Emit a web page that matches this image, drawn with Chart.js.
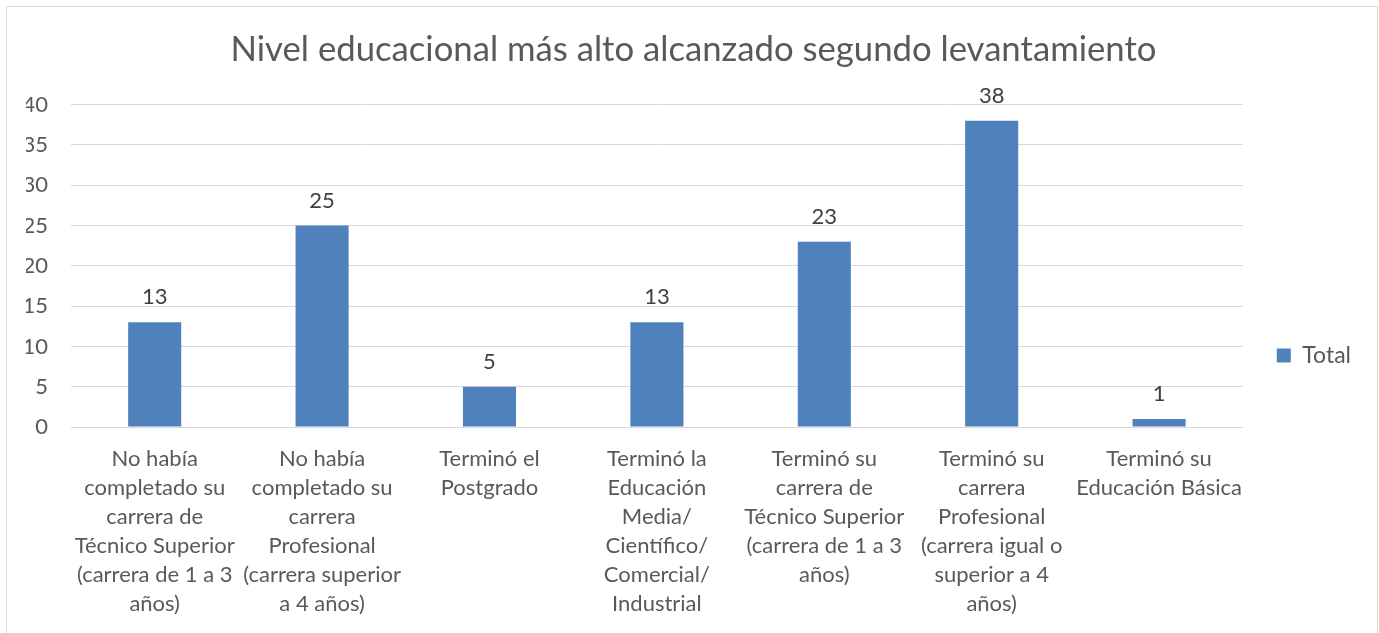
<!DOCTYPE html>
<html>
<head>
<meta charset="utf-8">
<script src="https://cdn.jsdelivr.net/npm/chart.js@4/dist/chart.umd.min.js"></script>
<style>
html,body{margin:0;padding:0;background:#fff;}
#wrap{position:absolute;left:0;top:0;width:1379px;height:633px;}
</style>
</head>
<body>
<div id="wrap"><canvas id="c" width="1379" height="633"></canvas></div>
<script>
const titleText = 'Nivel educacional más alto alcanzado segundo levantamiento';
const seriesName = 'Total';
const categories = [
  ['No había','completado su','carrera de','Técnico Superior','(carrera de 1 a 3','años)'],
  ['No había','completado su','carrera','Profesional','(carrera superior','a 4 años)'],
  ['Terminó el','Postgrado'],
  ['Terminó la','Educación','Media/','Científico/','Comercial/','Industrial'],
  ['Terminó su','carrera de','Técnico Superior','(carrera de 1 a 3','años)'],
  ['Terminó su','carrera','Profesional','(carrera igual o','superior a 4','años)'],
  ['Terminó su','Educación Básica']
];
const values = [13, 25, 5, 13, 23, 38, 1];
const yMin = 0, yMax = 40, yStep = 5;

const FONT = 'Lato, "Open Sans", sans-serif';
const TEXT = '#595959';

const borderPlugin = {
  id: 'outerBorder',
  beforeDraw(chart) {
    const ctx = chart.ctx;
    ctx.save();
    ctx.fillStyle = '#fff';
    ctx.fillRect(0, 0, chart.width, chart.height);
    ctx.strokeStyle = '#d9d9d9';
    ctx.lineWidth = 1;
    ctx.strokeRect(6.5, 6.5, chart.width - 8, chart.height + 10);
    ctx.restore();
  }
};

const labelPlugin = {
  id: 'valueLabels',
  afterDatasetsDraw(chart) {
    const ctx = chart.ctx;
    const meta = chart.getDatasetMeta(0);
    ctx.save();
    ctx.font = '22px ' + FONT;
    ctx.fillStyle = '#404040';
    ctx.textAlign = 'center';
    ctx.textBaseline = 'alphabetic';
    meta.data.forEach((bar, i) => {
      ctx.fillText(String(values[i]), bar.x, bar.y - 18);
    });
    ctx.restore();
  }
};

new Chart(document.getElementById('c'), {
  type: 'bar',
  data: {
    labels: categories,
    datasets: [{
      label: seriesName,
      data: values,
      backgroundColor: '#4F81BD',
      borderWidth: 0,
      categoryPercentage: 1.0,
      barPercentage: 0.317
    }]
  },
  options: {
    responsive: false,
    animation: false,
    devicePixelRatio: 1,
    layout: { padding: { left: 26, right: 18, top: 0, bottom: 0 } },
    plugins: {
      title: {
        display: true,
        text: titleText,
        color: TEXT,
        font: { family: FONT, size: 34.7, weight: 'normal', lineHeight: 1.2 },
        padding: { top: 29, bottom: 34 }
      },
      legend: {
        display: true,
        position: 'right',
        title: {
          display: true,
          text: ' ',
          font: { family: FONT, size: 10, lineHeight: 1.2 },
          padding: { top: 0, bottom: 66 }
        },
        labels: {
          color: TEXT,
          font: { family: FONT, size: 23 },
          boxWidth: 14,
          boxHeight: 14,
          padding: 34
        }
      },
      tooltip: { enabled: false }
    },
    scales: {
      x: {
        grid: { display: false, drawTicks: false },
        border: { display: false },
        ticks: {
          color: TEXT,
          font: { family: FONT, size: 22, lineHeight: 29 / 22 },
          padding: 17,
          maxRotation: 0,
          autoSkip: false
        },
        afterFit(s) { s.height = 206; }
      },
      y: {
        min: yMin,
        max: yMax,
        grid: { color: '#d9d9d9', drawTicks: false, lineWidth: 1 },
        border: { display: false },
        ticks: {
          stepSize: yStep,
          color: TEXT,
          font: { family: FONT, size: 22 },
          padding: 23
        },
        afterFit(s) { s.width = 45; }
      }
    }
  },
  plugins: [borderPlugin, labelPlugin]
});
</script>
</body>
</html>
